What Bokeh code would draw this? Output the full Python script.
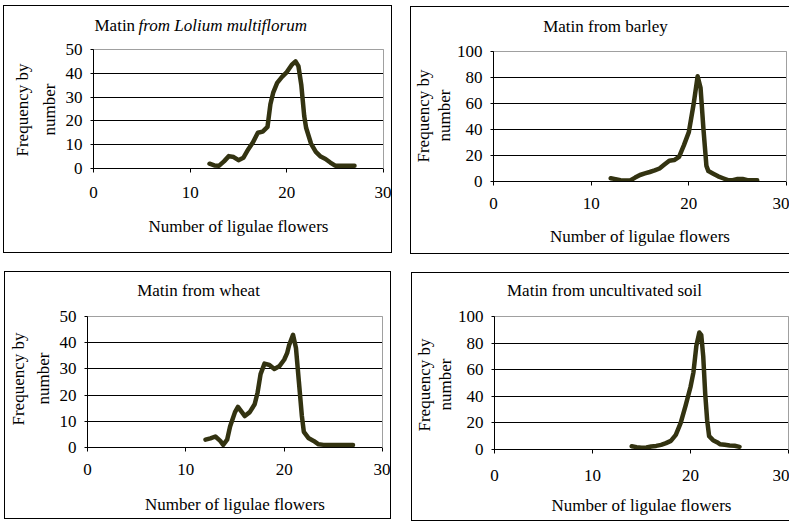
from bokeh.plotting import figure
from bokeh.models import (Range1d, FixedTicker, Label, Row, Column, Spacer,
                          LinearAxis, Span, Title)
from bokeh.embed import file_html
from bokeh.resources import INLINE

# ---------------- data ----------------
x_ticks = [0, 10, 20, 30]
y_ticks_50 = [0, 10, 20, 30, 40, 50]
y_ticks_100 = [0, 20, 40, 60, 80, 100]

x_label = "Number of ligulae flowers"
y_label_line1 = "Frequency by"
y_label_line2 = "number"

lolium_x = [12, 12.5, 13, 13.5, 14, 14.5, 15, 15.5, 16, 16.5, 17, 17.5, 18, 18.3, 18.6,
            19, 19.5, 20, 20.5, 20.9, 21.2, 21.5, 21.8, 22, 22.5, 23, 23.5, 24, 24.5, 25, 26, 27]
lolium_y = [2, 1.3, 1.2, 3, 5.2, 4.8, 3.5, 4.5, 8, 11, 15, 15.5, 17.5, 27, 32,
            36, 38.5, 40.5, 43.5, 45, 43, 35, 22, 17, 10.5, 7, 5, 4, 2.5, 1.2, 1.2, 1.2]

barley_x = [12, 12.5, 13, 13.5, 14, 14.5, 15, 15.5, 16, 16.5, 17, 17.5, 18, 18.5, 19,
            19.5, 20, 20.5, 20.9, 21.2, 21.5, 21.8, 22, 22.5, 23, 23.5, 24, 24.5, 25, 25.5, 26, 27]
barley_y = [2.5, 1.8, 1, 0.8, 0.8, 3, 5, 6.2, 7.3, 8.5, 10, 13, 16, 16.5, 19,
            28, 38, 60, 81, 72, 40, 12, 8, 6, 4, 2.5, 1, 1, 2, 2, 1, 1]

wheat_x = [12, 12.5, 13, 13.5, 13.8, 14.2, 14.5, 15, 15.3, 15.7, 16, 16.5, 17, 17.3, 17.6,
           18, 18.5, 19, 19.5, 20, 20.3, 20.5, 20.9, 21.2, 21.5, 21.8, 22, 22.5, 23, 23.5,
           24, 25, 26, 27]
wheat_y = [3, 3.5, 4.2, 2.5, 1, 3, 8, 13.5, 15.5, 13.5, 12, 13.5, 16.5, 21, 28,
           32, 31.5, 30, 31, 33.5, 36, 39, 43, 38, 25, 12, 6, 3.5, 2.5, 1.2,
           1, 1, 1, 1]

soil_x = [14, 14.5, 15, 15.5, 16, 16.5, 17, 17.5, 18, 18.5, 19, 19.5, 20, 20.3, 20.6,
          20.9, 21.1, 21.3, 21.5, 21.7, 21.9, 22.3, 22.7, 23, 23.5, 24, 24.5, 25]
soil_y = [2.5, 1.8, 1.3, 1.5, 2.3, 2.7, 3.5, 4.8, 6.5, 11, 20, 33, 47, 58, 78,
          88, 86, 70, 42, 22, 10, 7, 5.5, 4, 3.5, 3, 2.8, 2]

# ---------------- styling ----------------
FONT = "Liberation Serif"
FS = "17px"
LINE_COLOR = "#333311"
FRAME_GREY = "#a0a0a0"


def make_panel(xs, ys, ymax, yticks, g, titles, st, border):
    W, H = g["W"], g["H"]
    fl, fr, ft, fb = g["fl"], g["fr"], g["ft"], g["fb"]   # real plot area (content px)
    top_ext = 2                                            # frame extended up for the title
    y_end = ymax * (fb - top_ext) / (fb - ft)
    p = figure(width=W, height=H, output_backend="svg", toolbar_location=None,
               x_range=Range1d(0, 30), y_range=Range1d(0, y_end),
               min_border_left=fl, min_border_right=W - fr,
               min_border_top=top_ext, min_border_bottom=H - fb)
    p.title = None
    p.background_fill_color = "white"
    p.border_fill_color = "white"
    p.outline_line_color = None

    # x axis
    xa = p.xaxis[0]
    xa.ticker = FixedTicker(ticks=x_ticks)
    xa.minor_tick_line_color = None
    xa.major_tick_in = 0
    xa.major_tick_out = 4
    xa.axis_line_color = "black"
    xa.major_tick_line_color = "black"
    xa.major_label_text_font = FONT
    xa.major_label_text_font_size = FS
    xa.major_label_text_color = "black"
    xa.major_label_standoff = st["xt"]
    xa.axis_label = x_label
    xa.axis_label_text_font = FONT
    xa.axis_label_text_font_size = FS
    xa.axis_label_text_font_style = "normal"
    xa.axis_label_text_color = "black"
    xa.axis_label_standoff = st["xl"]

    # y axis (drawn only over the real value range)
    ya = p.yaxis[0]
    ya.bounds = (0, ymax)
    ya.ticker = FixedTicker(ticks=yticks)
    ya.minor_tick_line_color = None
    ya.major_tick_in = 3
    ya.major_tick_out = 3
    ya.axis_line_color = "black"
    ya.major_tick_line_color = "black"
    ya.major_label_text_font = FONT
    ya.major_label_text_font_size = FS
    ya.major_label_text_color = "black"
    ya.major_label_standoff = 8

    # two-line rotated y label
    p.add_layout(Title(text=y_label_line2, align="left", offset=st["n_off"],
                       standoff=st["n_st"], text_font=FONT, text_font_size=FS,
                       text_font_style="normal", text_color="black"), "left")
    p.add_layout(Title(text=y_label_line1, align="left", offset=st["f_off"],
                       standoff=st["f_st"], text_font=FONT, text_font_size=FS,
                       text_font_style="normal", text_color="black"), "left")

    # grey right border of the plot area
    ra = LinearAxis(bounds=(0, ymax), ticker=FixedTicker(ticks=[]),
                    axis_line_color=FRAME_GREY, major_tick_line_color=None,
                    minor_tick_line_color=None, major_tick_in=0, major_tick_out=0,
                    major_label_standoff=0)
    p.add_layout(ra, "right")
    # grey top border of the plot area
    p.add_layout(Span(location=ymax, dimension="width", line_color=FRAME_GREY, line_width=1))

    p.xgrid.visible = False
    p.ygrid.grid_line_color = "black"
    p.ygrid.grid_line_alpha = 1.0
    p.ygrid.grid_line_width = 1

    p.line(xs, ys, line_width=4.5, line_color=LINE_COLOR,
           line_join="round", line_cap="round")

    for t in titles:
        p.add_layout(Label(x=t["x"], y=t["y"], x_units="screen", y_units="screen",
                           text=t["text"], text_font=FONT, text_font_size=FS,
                           text_font_style=t.get("style", "normal"),
                           text_align=t.get("align", "center"), text_baseline="middle",
                           text_color="black"))
    p.styles = border
    return p


full_border = {"border": "1px solid black"}
open_border = {"border-left": "1px solid black", "border-top": "1px solid black",
               "border-bottom": "1px solid black"}

p1 = make_panel(lolium_x, lolium_y, 50, y_ticks_50,
                dict(W=389, H=248, fl=89, fr=379, ft=43, fb=162),
                [dict(text="Matin", x=1, y=143, align="left"),
                 dict(text="from  Lolium multiflorum", x=45, y=143, align="left",
                      style="italic")],
                dict(xt=14, xl=16, n_off=33, n_st=8, f_off=12, f_st=4), full_border)

p2 = make_panel(barley_x, barley_y, 100, y_ticks_100,
                dict(W=379, H=248, fl=81, fr=375, ft=44, fb=174),
                [dict(text="Matin from barley", x=112, y=155)],
                dict(xt=12, xl=15, n_off=40, n_st=0, f_off=19, f_st=0), open_border)

p3 = make_panel(wheat_x, wheat_y, 50, y_ticks_50,
                dict(W=387, H=248, fl=82, fr=377, ft=44, fb=175),
                [dict(text="Matin from wheat", x=111, y=157)],
                dict(xt=12, xl=17, n_off=43, n_st=8, f_off=22, f_st=0), full_border)

p4 = make_panel(soil_x, soil_y, 100, y_ticks_100,
                dict(W=378, H=249, fl=82, fr=376, ft=43, fb=176),
                [dict(text="Matin from uncultivated soil", x=110, y=159)],
                dict(xt=16, xl=12, n_off=39, n_st=0, f_off=18, f_st=0), open_border)

top_row = Row(children=[Spacer(width=3), Column(children=[Spacer(height=5), p1]),
                        Spacer(width=18), Column(children=[Spacer(height=6), p2])])
bottom_row = Row(children=[Spacer(width=4), Column(children=[Spacer(height=17), p3]),
                           Spacer(width=20), Column(children=[Spacer(height=18), p4])])
layout = Column(children=[top_row, bottom_row])

open("out.html", "w").write(file_html(layout, INLINE))
